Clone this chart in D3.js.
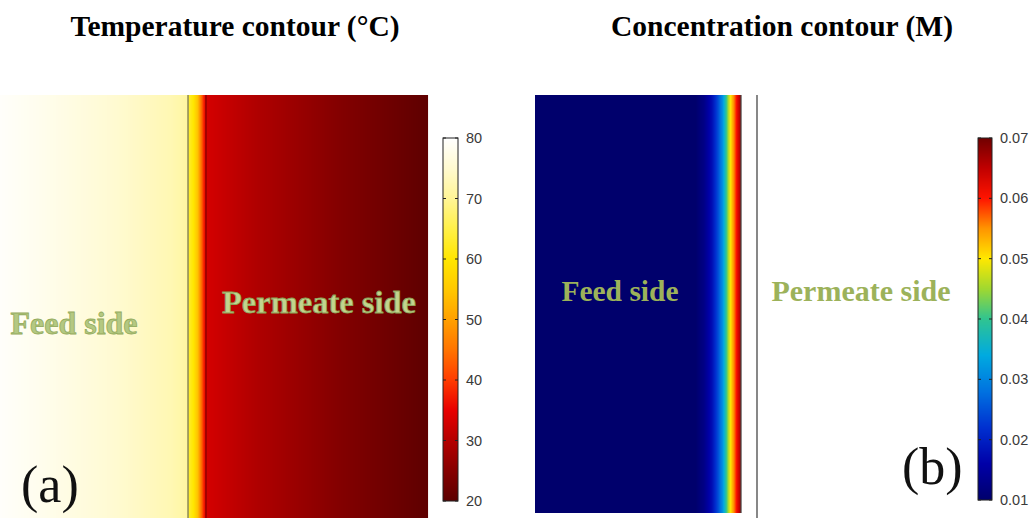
<!DOCTYPE html>
<html><head><meta charset="utf-8">
<script src="https://cdn.jsdelivr.net/npm/d3@7"></script>
<style>html,body{margin:0;padding:0;background:#fff;}svg{display:block;}</style>
</head><body>
<svg id="c" width="1030" height="518"></svg>
<script>
// ---- data ----
// temperature profile across the left domain (normalised position 0..1)
const tempPos = [0, 0.10, 0.25, 0.40, 0.437, 0.441, 0.452, 0.462, 0.470, 0.476, 0.480, 0.485, 0.60, 0.80, 1.0];
const tempVal = [79.5, 78, 75.5, 72.5, 71, 63, 60, 54, 45, 38, 35, 33, 29.5, 24.5, 20.3];
// concentration profile across the right domain (normalised position 0..1)
const concPos = [0, 0.78, 0.82, 0.86, 0.89, 0.91, 0.925, 0.94, 0.955, 0.97, 0.985, 1.0];
const concVal = [0.0100, 0.0100, 0.0125, 0.0180, 0.0250, 0.0310, 0.0380, 0.0460, 0.0520, 0.0570, 0.0630, 0.0670];
const tempTicks = [20, 30, 40, 50, 60, 70, 80];
const concTicks = [0.01, 0.02, 0.03, 0.04, 0.05, 0.06, 0.07];
const titles = ["Temperature contour (°C)", "Concentration contour (M)"];
const sideLabels = ["Feed side", "Permeate side"];
const panelLetters = ["(a)", "(b)"];

// ---- colour maps ----
const heat = d3.scaleLinear()
  .domain([20,25,30,35,40,45,50,55,60,65,70,75,80])
  .range(["#5c0000","#860000","#b40000","#e80000","#ff3c00","#ff7400","#ffa000","#ffc800","#ffe600","#fff048","#fff596","#fffad0","#ffffff"])
  .clamp(true);
const jetC = d3.scaleLinear()
  .domain([0.010,0.016,0.022,0.028,0.034,0.040,0.045,0.050,0.055,0.060,0.065,0.070])
  .range(["#00006c","#0000a8","#0030d0","#0072e0","#00aae0","#30c490","#a0d830","#ffe800","#ff9400","#ff1400","#c00000","#700000"])
  .clamp(true);

const svg = d3.select("#c");

// ---- left panel: temperature field ----
const L = {x0:0, x1:428, y0:95, y1:518};
const lx = d3.scaleLinear().domain([0,1]).range([L.x0, L.x1]);
const tProf = d3.scaleLinear().domain(tempPos).range(tempVal);
const lCols = d3.range(L.x0, L.x1, 1);
svg.append("g").selectAll("rect").data(lCols).join("rect")
  .attr("x", d => d).attr("y", L.y0).attr("width", 1.05).attr("height", L.y1 - L.y0)
  .attr("fill", d => heat(tProf(lx.invert(d + 0.5))));
svg.append("line").attr("x1", lx(0.4393)).attr("x2", lx(0.4393)).attr("y1", L.y0).attr("y2", L.y1)
  .attr("stroke", "#6e6e5a").attr("stroke-width", 1.2);
svg.append("line").attr("x1", lx(0.4813)).attr("x2", lx(0.4813)).attr("y1", L.y0).attr("y2", L.y1)
  .attr("stroke", "#7a0000").attr("stroke-width", 1.2);

// ---- right panel: concentration field ----
const R = {x0:535, x1:741, y0:95, y1:513};
const rx = d3.scaleLinear().domain([0,1]).range([R.x0, R.x1]);
const cProf = d3.scaleLinear().domain(concPos).range(concVal);
const rCols = d3.range(R.x0, R.x1, 1);
svg.append("g").selectAll("rect").data(rCols).join("rect")
  .attr("x", d => d).attr("y", R.y0).attr("width", 1.05).attr("height", R.y1 - R.y0)
  .attr("fill", d => jetC(cProf(rx.invert(d + 0.5))));
svg.append("line").attr("x1", R.x1).attr("x2", R.x1).attr("y1", R.y0).attr("y2", R.y1)
  .attr("stroke", "#444").attr("stroke-width", 1.2);
svg.append("line").attr("x1", 757).attr("x2", 757).attr("y1", R.y0).attr("y2", 518)
  .attr("stroke", "#6a6a6a").attr("stroke-width", 1.6);

// ---- colour bars ----
function colorbar(x, w, yTop, yBot, domain, cmap, ticks, fmt) {
  const y = d3.scaleLinear().domain(domain).range([yBot, yTop]);
  const g = svg.append("g");
  const rows = d3.range(yTop, yBot, 1);
  g.selectAll("rect.r").data(rows).join("rect").attr("class","r")
    .attr("x", x).attr("y", d => d).attr("width", w).attr("height", 1.05)
    .attr("fill", d => cmap(y.invert(d + 0.5)));
  g.append("rect").attr("x", x).attr("y", yTop).attr("width", w).attr("height", yBot - yTop)
    .attr("fill", "none").attr("stroke", "#222").attr("stroke-width", 1);
  const ax = d3.axisRight(y).tickValues(ticks).tickFormat(fmt).tickSize(0).tickPadding(8);
  const a = g.append("g").attr("transform", `translate(${x + w},0)`).call(ax);
  a.select(".domain").remove();
  a.selectAll("text").attr("font-family", "'Liberation Sans', Arial, sans-serif")
    .attr("font-size", 14.5).attr("fill", "#3a3a3a");
  g.selectAll("line.tl").data(ticks).join("line").attr("class","tl")
    .attr("x1", x).attr("x2", x + 3).attr("y1", d => y(d)).attr("y2", d => y(d))
    .attr("stroke", "#222");
  g.selectAll("line.tr").data(ticks).join("line").attr("class","tr")
    .attr("x1", x + w - 3).attr("x2", x + w).attr("y1", d => y(d)).attr("y2", d => y(d))
    .attr("stroke", "#222");
}
colorbar(443, 15, 138, 501, [20, 80], heat, tempTicks, d3.format("d"));
colorbar(978, 14, 138, 500, [0.01, 0.07], jetC, concTicks, d3.format(".2f"));

// ---- titles ----
const serif = "'Liberation Serif', 'Times New Roman', serif";
svg.selectAll("text.title").data(titles).join("text").attr("class","title")
  .attr("x", (d,i) => [235, 782][i]).attr("y", 36)
  .attr("text-anchor", "middle").attr("font-family", serif)
  .attr("font-weight", "bold").attr("font-size", 29.5).attr("fill", "#000").text(d => d);

// ---- side labels ----
const lbl = [
  {t: sideLabels[0], x: 74,  y: 334, fs: 32,   fill: "#b4c882", stroke: "#93ab5c"},
  {t: sideLabels[1], x: 319, y: 313, fs: 32.5, fill: "#c2d48e", stroke: "#8aa256"},
  {t: sideLabels[0], x: 620, y: 301, fs: 29.5, fill: "#9cb25a", stroke: "none"},
  {t: sideLabels[1], x: 861, y: 301, fs: 30,   fill: "#9cb25a", stroke: "none"}
];
svg.selectAll("text.side").data(lbl).join("text").attr("class","side")
  .attr("x", d => d.x).attr("y", d => d.y).attr("text-anchor", "middle")
  .attr("font-family", serif).attr("font-weight", "bold").attr("font-size", d => d.fs)
  .attr("fill", d => d.fill).attr("stroke", d => d.stroke).attr("stroke-width", 0.8)
  .text(d => d.t);

// ---- panel letters ----
svg.selectAll("text.pl").data(panelLetters).join("text").attr("class","pl")
  .attr("x", (d,i) => [21, 902][i]).attr("y", (d,i) => [502, 484][i])
  .attr("font-family", serif).attr("font-size", 52).attr("fill", "#111").text(d => d);
</script>
</body></html>
